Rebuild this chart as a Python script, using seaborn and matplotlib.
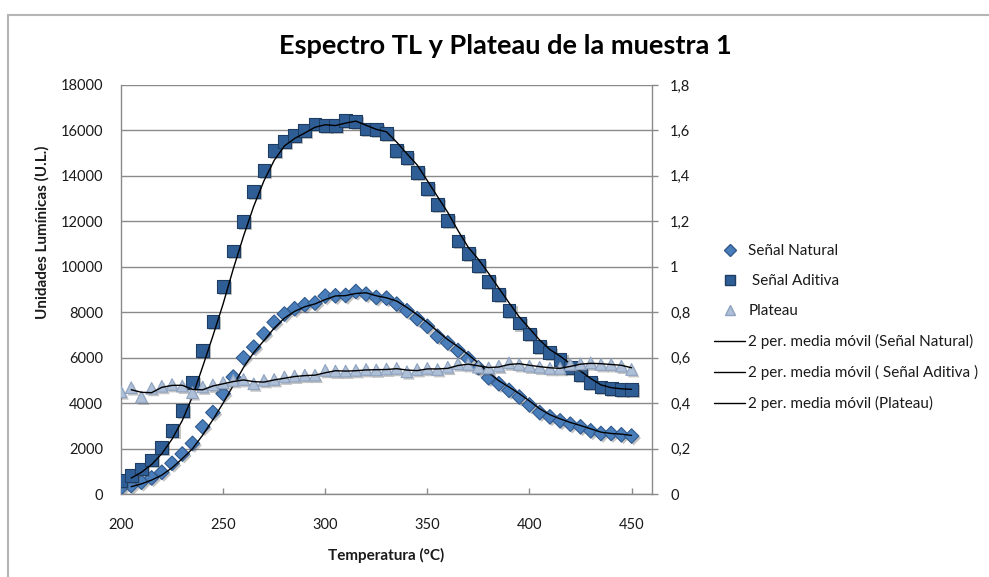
import matplotlib
matplotlib.use("Agg")
import matplotlib.pyplot as plt
import matplotlib.patheffects as pe
from matplotlib.lines import Line2D
from matplotlib.patches import Rectangle
import seaborn as sns
import pandas as pd

# ---------------- data ----------------
temperatura = [200, 205, 210, 215, 220, 225, 230, 235, 240, 245,
               250, 255, 260, 265, 270, 275, 280, 285, 290, 295,
               300, 305, 310, 315, 320, 325, 330, 335, 340, 345,
               350, 355, 360, 365, 370, 375, 380, 385, 390, 395,
               400, 405, 410, 415, 420, 425, 430, 435, 440, 445, 450]

senal_natural = [270, 372, 518, 708, 956, 1350, 1760, 2226, 2957, 3584,
                 4416, 5147, 5993, 6461, 7045, 7556, 7921, 8155, 8330, 8403,
                 8710, 8724, 8738, 8913, 8797, 8650, 8620, 8358, 8066, 7716,
                 7381, 6943, 6650, 6316, 5965, 5555, 5117, 4854, 4562, 4270,
                 3920, 3584, 3395, 3220, 3074, 2957, 2781, 2664, 2664, 2606, 2550]

senal_aditiva = [591, 810, 1102, 1496, 2051, 2781, 3687, 4898, 6316, 7600,
                 9133, 10696, 12010, 13325, 14244, 15120, 15515, 15778, 15997, 16285,
                 16215, 16215, 16434, 16390, 16066, 16030, 15850, 15120, 14827, 14139,
                 13439, 12737, 12054, 11134, 10591, 10070, 9350, 8769, 8066, 7525,
                 7045, 6505, 6212, 5922, 5555, 5265, 4898, 4709, 4651, 4607, 4607]

plateau = [0.450, 0.468, 0.427, 0.465, 0.474, 0.482, 0.475, 0.446, 0.471, 0.480,
           0.490, 0.500, 0.504, 0.485, 0.500, 0.504, 0.515, 0.519, 0.523, 0.523,
           0.544, 0.541, 0.541, 0.544, 0.548, 0.546, 0.550, 0.553, 0.538, 0.548,
           0.553, 0.548, 0.558, 0.573, 0.570, 0.558, 0.555, 0.563, 0.577, 0.570,
           0.563, 0.558, 0.553, 0.553, 0.570, 0.573, 0.577, 0.570, 0.570, 0.563, 0.548]

left_ticks = [0, 2000, 4000, 6000, 8000, 10000, 12000, 14000, 16000, 18000]
right_ticks = [0, 0.2, 0.4, 0.6, 0.8, 1.0, 1.2, 1.4, 1.6, 1.8]
right_tick_labels = ["0", "0,2", "0,4", "0,6", "0,8", "1", "1,2", "1,4", "1,6", "1,8"]
x_ticks = [200, 250, 300, 350, 400, 450]

titulo = "Espectro TL y Plateau de la muestra 1"
x_label = "Temperatura (°C)"
y_label = "Unidades Lumínicas (U.L.)"
leg_labels = ["Señal Natural", " Señal Aditiva", "Plateau",
              "2 per. media móvil (Señal Natural)",
              "2 per. media móvil ( Señal Aditiva )",
              "2 per. media móvil (Plateau)"]

df = pd.DataFrame({"T": temperatura, "nat": senal_natural,
                   "adi": senal_aditiva, "pla": plateau})
df["nat_mm"] = df["nat"].rolling(2).mean()
df["adi_mm"] = df["adi"].rolling(2).mean()
df["pla_mm"] = df["pla"].rolling(2).mean()
dmm = df.dropna()

# ---------------- style ----------------
sns.set_theme(style="white")
plt.rcParams["font.family"] = ["Lato", "DejaVu Sans"]

GRID = "#8a8a8a"
TXT = "#1a1a1a"
C_NAT, E_NAT = "#4a7ebb", "#30598c"
C_ADI, E_ADI = "#2f5e96", "#1e3d63"
C_PLA, E_PLA = "#aebfd8", "#8ea2bf"

fig = plt.figure(figsize=(9.89, 5.77), dpi=100)
W, H = 989, 577
ax = fig.add_axes([121 / W, 1 - 494 / H, (652 - 121) / W, (494 - 85) / H])
ax2 = ax.twinx()

shadow = [pe.SimplePatchShadow(offset=(1.5, -1.5), alpha=0.35, shadow_rgbFace="#555555"),
          pe.Normal()]

sns.scatterplot(data=df, x="T", y="nat", ax=ax, marker="D", s=55,
                color=C_NAT, edgecolor=E_NAT, linewidth=0.8, zorder=3, legend=False)
sns.scatterplot(data=df, x="T", y="adi", ax=ax, marker="s", s=85,
                color=C_ADI, edgecolor=E_ADI, linewidth=0.8, zorder=3, legend=False)
sns.lineplot(data=dmm, x="T", y="nat_mm", ax=ax, color="black", linewidth=1.0,
             zorder=4, legend=False)
sns.lineplot(data=dmm, x="T", y="adi_mm", ax=ax, color="black", linewidth=1.0,
             zorder=4, legend=False)
sns.scatterplot(data=df, x="T", y="pla", ax=ax2, marker="^", s=70,
                color=C_PLA, edgecolor=E_PLA, linewidth=0.8, zorder=3, legend=False)
sns.lineplot(data=dmm, x="T", y="pla_mm", ax=ax2, color="black", linewidth=1.0,
             zorder=4, legend=False)
for coll in ax.collections + ax2.collections:
    coll.set_path_effects(shadow)

# axes limits / ticks
ax.set_xlim(200, 460)
ax.set_ylim(0, 18000)
ax2.set_ylim(0, 1.8)
ax.set_xticks(x_ticks)
ax.set_xticklabels([str(v) for v in x_ticks])
ax.set_yticks(left_ticks)
ax.set_yticklabels([str(v) for v in left_ticks])
ax2.set_yticks(right_ticks)
ax2.set_yticklabels(right_tick_labels)

ax.yaxis.grid(True, color=GRID, linewidth=1.0)
ax.xaxis.grid(False)
ax.set_axisbelow(True)

for a in (ax, ax2):
    a.spines["top"].set_visible(False)
    a.patch.set_visible(False)
ax.spines["right"].set_visible(False)
ax2.spines["left"].set_visible(False)
ax2.spines["bottom"].set_visible(False)
ax.spines["left"].set_color(GRID)
ax.spines["bottom"].set_color(GRID)
ax2.spines["right"].set_color(GRID)
for s in ("left", "bottom"):
    ax.spines[s].set_linewidth(1.0)
ax2.spines["right"].set_linewidth(1.0)

ax.tick_params(axis="x", direction="in", length=4, width=1, color=GRID,
               pad=17, labelsize=10.5, labelcolor=TXT, bottom=True)
ax.tick_params(axis="y", length=0, pad=13, labelsize=10.5, labelcolor=TXT, left=True)
ax2.tick_params(axis="y", direction="out", length=4, width=1, color=GRID,
                pad=9, labelsize=10.5, labelcolor=TXT, right=True)

ax.set_xlabel("")
ax.set_ylabel("")
ax2.set_ylabel("")

fig.text(386 / W, 1 - 555 / H, x_label, ha="center", va="center",
         fontsize=11, fontweight="bold", color=TXT)
fig.text(42 / W, 1 - 232 / H, y_label, ha="center", va="center", rotation=90,
         fontsize=11, fontweight="bold", color=TXT)
fig.text(505 / W, 1 - 46 / H, titulo, ha="center", va="center",
         fontsize=19.5, fontweight="bold", color="black")

# chart border
fig.patches.append(Rectangle((8 / W, -0.05), 1.2, (1 - 14.5 / H) + 0.05,
                             transform=fig.transFigure, fill=False,
                             edgecolor="#b5b5b5", linewidth=1.5, zorder=0))

# legend
handles = [
    Line2D([], [], linestyle="none", marker="D", markersize=6.5,
           markerfacecolor=C_NAT, markeredgecolor=E_NAT),
    Line2D([], [], linestyle="none", marker="s", markersize=7.5,
           markerfacecolor=C_ADI, markeredgecolor=E_ADI),
    Line2D([], [], linestyle="none", marker="^", markersize=7.5,
           markerfacecolor=C_PLA, markeredgecolor=E_PLA),
    Line2D([], [], color="black", linewidth=1.0),
    Line2D([], [], color="black", linewidth=1.0),
    Line2D([], [], color="black", linewidth=1.0),
]
fig.legend(handles, leg_labels, loc="upper left",
           bbox_to_anchor=(714 / W, 1 - 244 / H), frameon=False,
           fontsize=11, handlelength=2.05, handletextpad=0.2,
           labelspacing=1.05, borderpad=0, borderaxespad=0,
           labelcolor=TXT)

fig.savefig("out.png", dpi=100, facecolor="white")
